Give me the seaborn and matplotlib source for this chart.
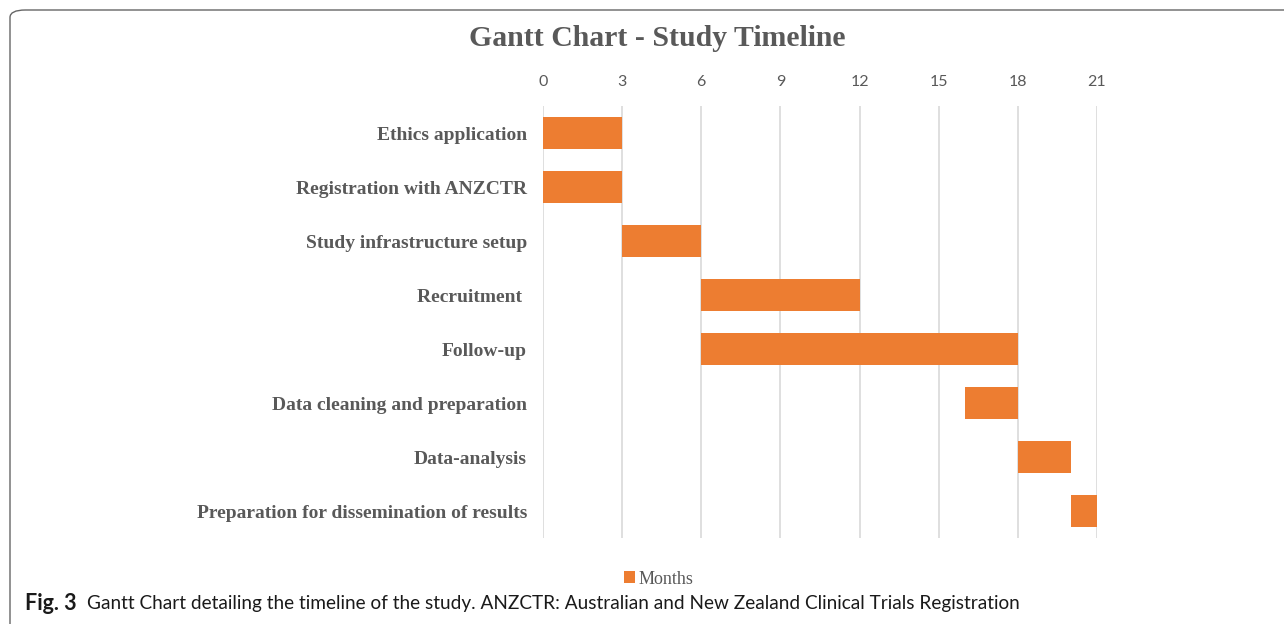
import matplotlib
matplotlib.use("Agg")
import matplotlib.pyplot as plt
import seaborn as sns
import pandas as pd
from matplotlib.patches import FancyBboxPatch, Patch

tasks = ["Ethics application", "Registration with ANZCTR", "Study infrastructure setup",
         "Recruitment ", "Follow-up", "Data cleaning and preparation", "Data-analysis",
         "Preparation for dissemination of results"]
start_month = [0, 0, 3, 6, 6, 16, 18, 20]
duration = [3, 3, 3, 6, 12, 2, 2, 1]
x_ticks = [0, 3, 6, 9, 12, 15, 18, 21]

ORANGE = "#ED7D31"
GRAY = "#595959"

sns.set_theme(style="white")
df = pd.DataFrame({"task": tasks, "start": start_month, "dur": duration})

fig = plt.figure(figsize=(12.84, 6.24), dpi=100)
ax = fig.add_axes([543/1284, 1 - 538/624, (1097 - 543)/1284, (538 - 106)/624])

sns.barplot(data=df, y="task", x="dur", order=tasks, color=ORANGE, saturation=1,
            width=0.58, orient="h", ax=ax, errorbar=None, zorder=3)
for p, s in zip(ax.patches, start_month):
    p.set_x(s)
    p.set_edgecolor("none")

ax.set_xlim(0, 21)
ax.set_ylim(len(tasks) - 0.5, -0.5)
ax.set_xticks(x_ticks)
ax.xaxis.tick_top()
ax.set_xlabel("")
ax.set_ylabel("")
ax.grid(axis="x", color="#D9D9D9", linewidth=1.2, zorder=0)
ax.set_axisbelow(True)
for sp in ax.spines.values():
    sp.set_visible(False)
ax.tick_params(axis="x", length=0, pad=12, labelsize=11.5, labelcolor=GRAY)
ax.tick_params(axis="y", length=0, pad=11.5, labelcolor=GRAY)
for lab in ax.get_xticklabels():
    lab.set_family("Lato")
for lab in ax.get_yticklabels():
    lab.set_family("Liberation Serif")
    lab.set_fontweight("bold")
    lab.set_fontsize(14)

fig.text(657/1284, 1 - 39/624, "Gantt Chart - Study Timeline", ha="center", va="center",
         fontsize=21.4, fontweight="bold", family="Liberation Serif", color=GRAY)

fig.legend(handles=[Patch(facecolor=ORANGE, edgecolor="none", label="Months")],
           loc="center", bbox_to_anchor=(659/1284, 1 - 579/624), frameon=False,
           prop={"family": "Liberation Serif", "size": 13}, labelcolor=GRAY,
           handlelength=0.6, handleheight=0.6, handletextpad=0.2)

fig.text(25/1284, 1 - 603/624, "Fig. 3", ha="left", va="center", fontsize=15.5,
         fontweight="bold", family="Lato", color="#1a1a1a")
fig.text(87/1284, 1 - 603/624,
         "Gantt Chart detailing the timeline of the study. ANZCTR: Australian and New Zealand Clinical Trials Registration",
         ha="left", va="center", fontsize=13.7, family="Lato", color="#1a1a1a")

frame = FancyBboxPatch((10/1284, -0.1), 1.2, (1 - 10/624) + 0.1,
                       boxstyle="round,pad=0,rounding_size=0.012",
                       transform=fig.transFigure, facecolor="none",
                       edgecolor="#666666", linewidth=1.0, clip_on=False)
fig.patches.append(frame)

fig.savefig("out.png", dpi=100)
